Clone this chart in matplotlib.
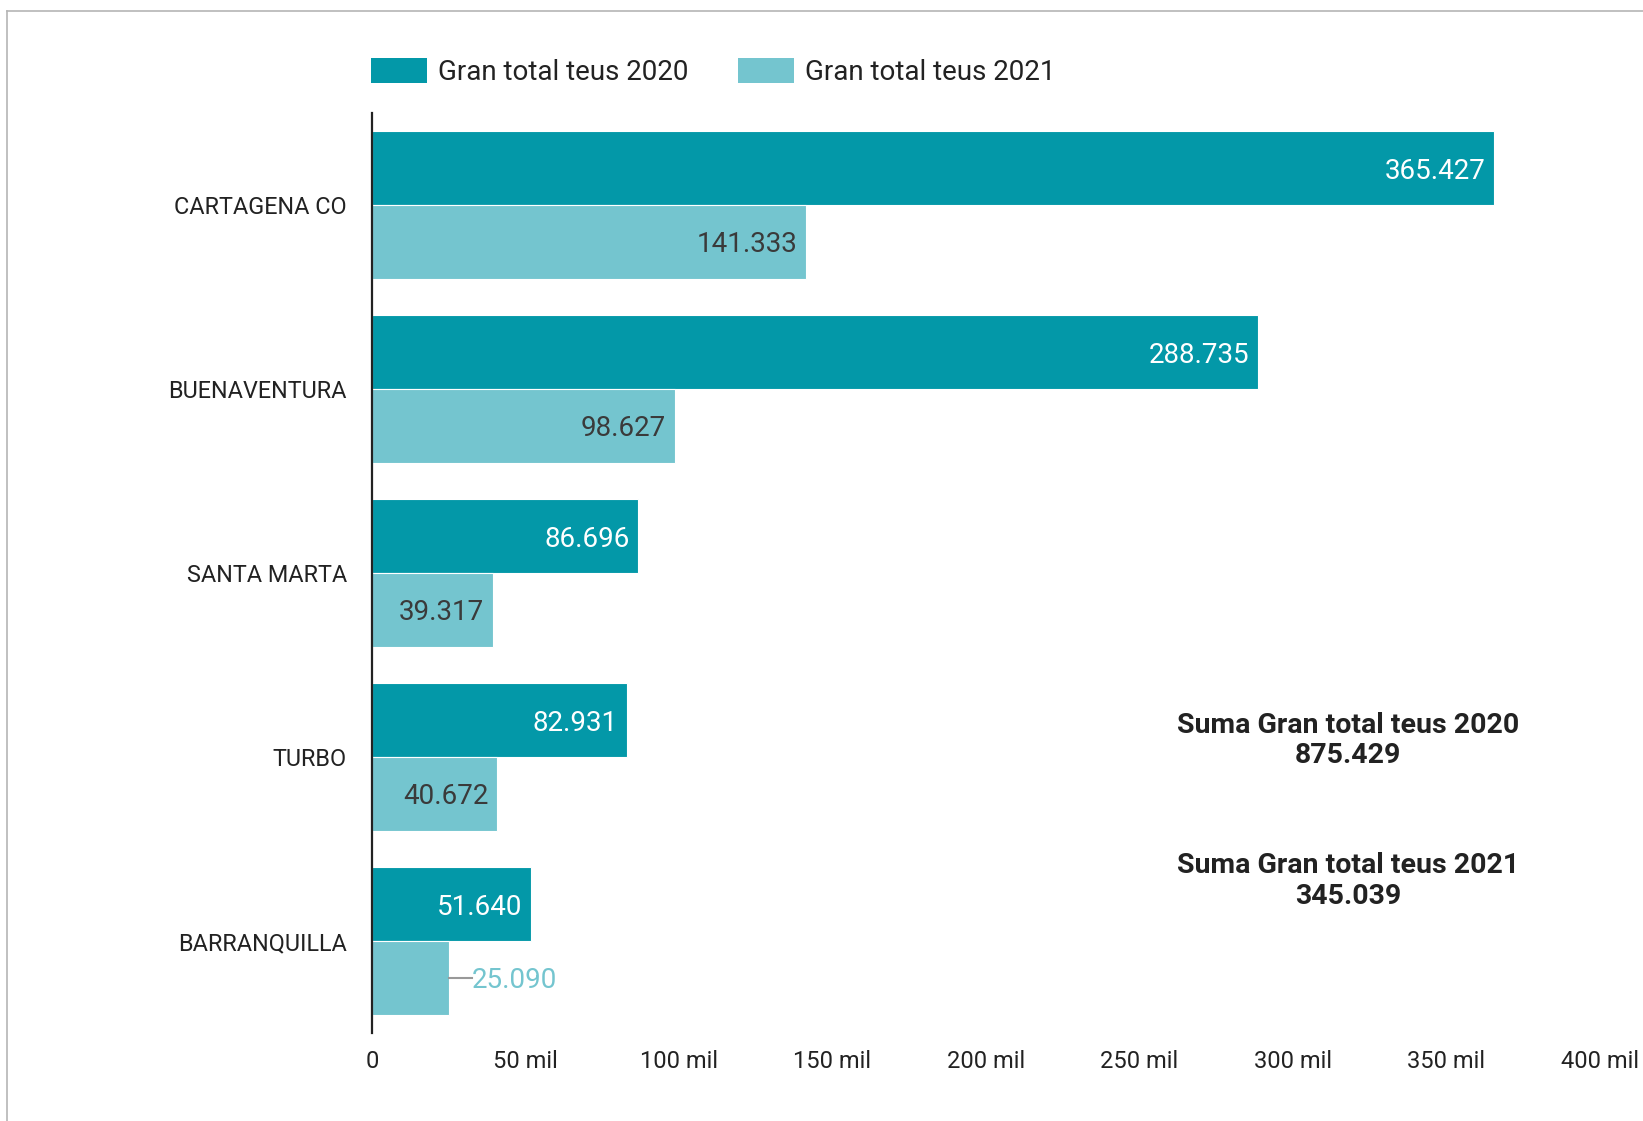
import matplotlib
matplotlib.use('Agg')
import numpy as np
from matplotlib import pyplot as plt
from matplotlib.lines import Line2D
from matplotlib.patches import Patch
from matplotlib.ticker import FuncFormatter

plt.rcParams['font.family'] = ['Roboto', 'DejaVu Sans']

ports = ['CARTAGENA CO', 'BUENAVENTURA', 'SANTA MARTA', 'TURBO', 'BARRANQUILLA']
teus_2020 = [365427, 288735, 86696, 82931, 51640]
teus_2021 = [141333, 98627, 39317, 40672, 25090]
series_names = ['Gran total teus 2020', 'Gran total teus 2021']
xticks = [0, 50000, 100000, 150000, 200000, 250000, 300000, 350000, 400000]

c2020 = '#0398a8'
c2021 = '#74c5cf'

def fmt_num(v):
    return '{:,}'.format(v).replace(',', '.')

fig = plt.figure(figsize=(16.43, 11.21), dpi=100)
ax = fig.add_axes([0.2264, 0.0785, 0.7474, 0.8207])

y = np.arange(len(ports))
h = 0.4
ax.barh(y - h / 2, teus_2020, height=h, color=c2020, edgecolor='white', linewidth=0.8)
ax.barh(y + h / 2, teus_2021, height=h, color=c2021, edgecolor='white', linewidth=0.8)

ax.set_xlim(0, 400000)
ax.set_ylim(4.5, -0.5)
ax.set_yticks(y)
ax.set_yticklabels(ports, fontsize=16.8, color='#222222')
ax.set_xticks(xticks)
ax.xaxis.set_major_formatter(FuncFormatter(lambda v, p: '0' if v == 0 else '%d mil' % (v / 1000)))
ax.tick_params(axis='x', length=0, pad=12, labelsize=17, labelcolor='#222222')
ax.tick_params(axis='y', length=0, pad=18)
for s in ['top', 'right', 'bottom']:
    ax.spines[s].set_visible(False)
ax.spines['left'].set_color('#222222')
ax.spines['left'].set_linewidth(1.6)

# value labels
off = 2800
for i, v in enumerate(teus_2020):
    ax.text(v - off, i - h / 2, fmt_num(v), ha='right', va='center_baseline', fontsize=20, color='white')
for i, v in enumerate(teus_2021):
    if v > 30000:
        ax.text(v - off, i + h / 2, fmt_num(v), ha='right', va='center_baseline', fontsize=20, color='#3a3a3a')
    else:
        ax.plot([v, v + 7500], [i + h / 2, i + h / 2], color='#999999', linewidth=1.5)
        ax.text(v + 7500, i + h / 2, fmt_num(v), ha='left', va='center_baseline', fontsize=20, color=c2021)

# legend
handles = [Patch(facecolor=c2020), Patch(facecolor=c2021)]
fig.legend(handles, series_names, loc='center left', bbox_to_anchor=(0.2258, 0.9357),
           ncol=2, frameon=False, fontsize=20, handlelength=2.0, handleheight=1.0,
           handletextpad=0.4, columnspacing=1.8, borderpad=0, borderaxespad=0,
           labelcolor='#222222')

# totals
fig.text(0.8207, 0.3395, 'Suma Gran total teus 2020\n' + fmt_num(sum(teus_2020)),
         ha='center', va='center', fontsize=20.5, fontweight='bold', color='#222222',
         linespacing=1.15, multialignment='center')
fig.text(0.8207, 0.2141, 'Suma Gran total teus 2021\n' + fmt_num(sum(teus_2021)),
         ha='center', va='center', fontsize=20.5, fontweight='bold', color='#222222',
         linespacing=1.15, multialignment='center')

# outer frame
fig.add_artist(Line2D([7 / 1643, 1], [1 - 11 / 1121, 1 - 11 / 1121], transform=fig.transFigure,
                      color='#b5b5b5', linewidth=1.2))
fig.add_artist(Line2D([7 / 1643, 7 / 1643], [0, 1 - 11 / 1121], transform=fig.transFigure,
                      color='#b5b5b5', linewidth=1.2))

plt.savefig('out.png', dpi=100)
